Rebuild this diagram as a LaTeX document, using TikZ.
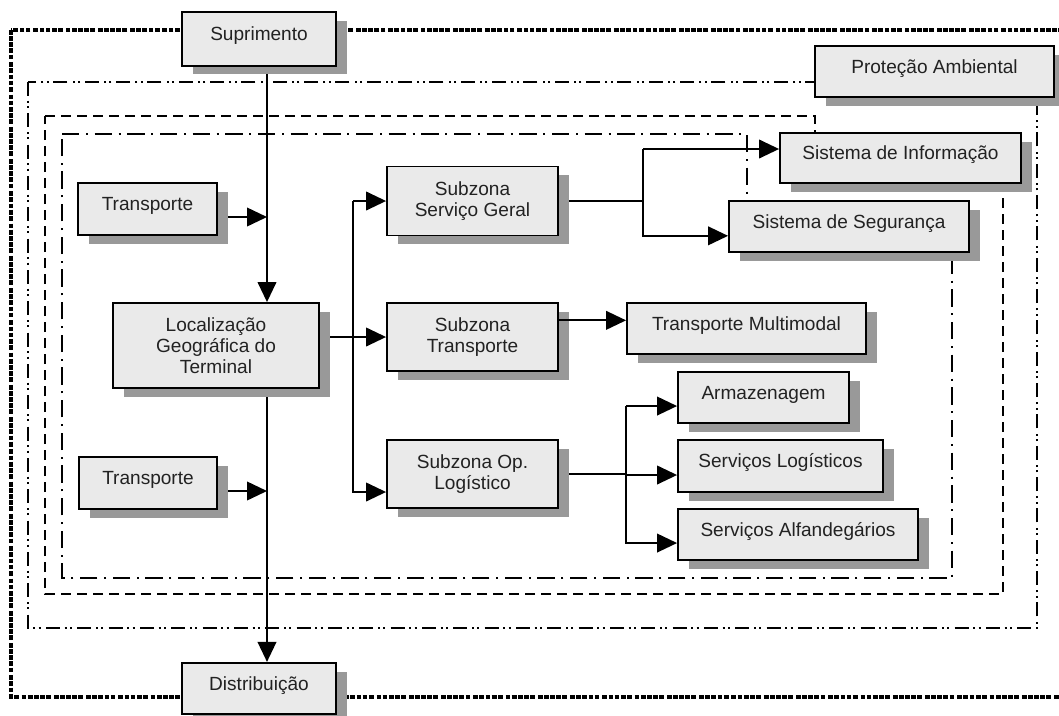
\documentclass[tikz,border=0pt]{standalone}
\usepackage{fontspec}
\setmainfont{Liberation Sans}
\usetikzlibrary{arrows.meta,shadows,backgrounds}
\definecolor{boxfill}{HTML}{EAEAEA}
\definecolor{shgray}{HTML}{999999}
\definecolor{txt}{HTML}{222222}
\tikzset{
  box/.style={draw=black, line width=1.4pt, fill=boxfill, text=txt,
    font=\fontsize{14.3}{15.75}\selectfont, align=center, inner sep=0pt,
    drop shadow={shadow xshift=8pt, shadow yshift=-6.5pt, fill=shgray, opacity=1}},
  one/.style={text height=10.5pt, text depth=8pt},
  conn/.style={line width=1.3pt, draw=black},
  arr/.style={conn, -{Triangle[length=15pt,width=14pt]}},
  zdot/.style={line width=3pt, dash pattern=on 3.6pt off 1pt on 3.6pt off 1pt on 3.6pt off 1pt on 3.6pt off 1pt on 3.6pt off 2.2pt},
  zddd/.style={line width=1.2pt, dash pattern=on 10.5pt off 3.5pt on 1.5pt off 2.5pt on 1.5pt off 4pt},
  zdash/.style={line width=1.3pt, dash pattern=on 7.5pt off 4.5pt},
  zdd/.style={line width=1.4pt, dash pattern=on 13pt off 5pt on 1.5pt off 5pt},
}
\begin{document}
\begin{tikzpicture}[x=0.75pt, y=-0.75pt]
\useasboundingbox (0,0) rectangle (1059,715);
\clip (0,0) rectangle (1059,715);

% boxes
\node[box,one,minimum width=115.5pt,minimum height=40pt] (sup) at (259,39) {Suprimento};
\node[box,one,minimum width=115.5pt,minimum height=38.5pt] (dist) at (259,688.5) {Distribuição};
\node[box,one,minimum width=179.25pt,minimum height=38.25pt] (prot) at (934.5,71.5) {Proteção Ambiental};
\node[box,one,minimum width=104.25pt,minimum height=39pt] (tr1) at (147.5,209) {Transporte};
\node[box,one,minimum width=103.5pt,minimum height=39pt] (tr2) at (148,483) {Transporte};
\node[box,minimum width=154.5pt,minimum height=63.75pt] (loc) at (216,345.5) {Localização\\Geográfica do\\Terminal};
\node[box,minimum width=128.25pt,minimum height=51.75pt] (sg) at (472.5,201) {Subzona\\Serviço Geral};
\node[box,minimum width=128.25pt,minimum height=51pt] (st) at (472.5,337) {Subzona\\Transporte};
\node[box,minimum width=128.25pt,minimum height=51pt] (so) at (472.5,474) {Subzona Op.\\Logístico};
\node[box,one,minimum width=180.75pt,minimum height=37.5pt] (si) at (900.5,158) {Sistema de Informação};
\node[box,one,minimum width=180pt,minimum height=38.25pt] (ss) at (849,226.5) {Sistema de Segurança};
\node[box,one,minimum width=179.25pt,minimum height=38.25pt] (tm) at (746.5,328.5) {Transporte Multimodal};
\node[box,one,minimum width=128.25pt,minimum height=38.25pt] (ar) at (763.5,397.5) {Armazenagem};
\node[box,one,minimum width=153.75pt,minimum height=39pt] (sl) at (780.5,466) {Serviços Logísticos};
\node[box,one,minimum width=180pt,minimum height=38.25pt] (sa) at (798,534.5) {Serviços Alfandegários};

\coordinate (vx) at (267,0);
\coordinate (vb) at (353,0);
\coordinate (v2) at (643,0);
\coordinate (v3) at (626,0);
\coordinate (soin) at ([yshift=-13.5pt]so.west);
\coordinate (siin) at ([yshift=6.75pt]si.west);
\coordinate (ssin) at ([yshift=-7pt]ss.west);
\coordinate (arin) at ([yshift=-6.4pt]ar.west);
\coordinate (slin) at ([yshift=-6.75pt]sl.west);
\coordinate (sain) at ([yshift=-6.4pt]sa.west);
\coordinate (tr1o) at ([yshift=-6pt]tr1.east);
\coordinate (tr2o) at ([yshift=-6pt]tr2.east);
\coordinate (sto) at ([yshift=12.5pt]st.east);

\begin{scope}[on background layer]
  % zones
  \draw[zdot] (11,30) rectangle (1080,697);
  \draw[zddd] (28,82) rectangle (1037,628);
  \draw[zdash] (45,116) -- (815,116) -- (815,160) -- (1003,160) -- (1003,594) -- (45,594) -- cycle;
  \draw[zdd] (62,134) -- (747,134) -- (747,226) -- (952,226) -- (952,578) -- (62,578) -- cycle;
  % connectors
  \draw[arr] (sup.south -| vx) -- (loc.north -| vx);
  \draw[arr] (loc.south -| vx) -- (dist.north -| vx);
  \draw[arr] (tr1o) -- (tr1o -| vx);
  \draw[arr] (tr2o) -- (tr2o -| vx);
  \draw[arr] (st.west -| loc.east) -- (st.west);
  \draw[arr] (sg.west -| vb) -- (sg.west);
  \draw[arr] (sg.west -| vb) -- (vb |- soin) -- (soin);
  \draw[conn] (sg.east) -- (sg.east -| v2);
  \draw[arr] (v2 |- siin) -- (siin);
  \draw[arr] (v2 |- siin) -- (v2 |- ssin) -- (ssin);
  \draw[conn] (so.east) -- (so.east -| v3);
  \draw[arr] (v3 |- arin) -- (arin);
  \draw[arr] (v3 |- slin) -- (slin);
  \draw[arr] (v3 |- arin) -- (v3 |- sain) -- (sain);
\end{scope}
\draw[arr] (sto) -- (sto -| tm.west);
\end{tikzpicture}
\end{document}
